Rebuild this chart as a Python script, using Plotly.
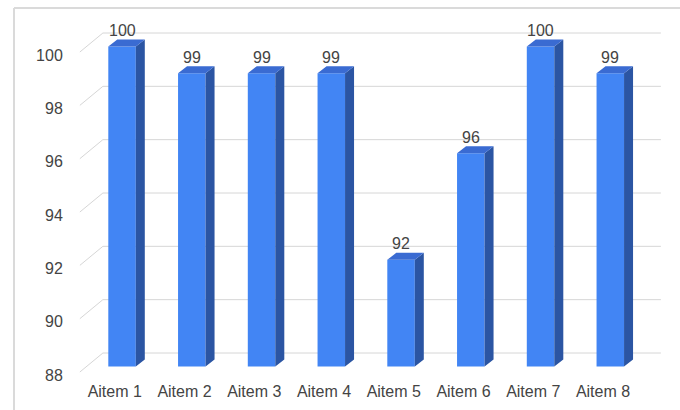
import plotly.graph_objects as go

# ---- data ----
categories = ["Aitem 1", "Aitem 2", "Aitem 3", "Aitem 4",
              "Aitem 5", "Aitem 6", "Aitem 7", "Aitem 8"]
values = [100, 99, 99, 99, 92, 96, 100, 99]
y_ticks = [88, 90, 92, 94, 96, 98, 100]

# ---- layout geometry (pixels) ----
W, H = 680, 410
PLOT_L, PLOT_R, PLOT_T, PLOT_B = 78, 680, 15, 374
X0_PX = 114.75    # first category centre on the front plane
X_STEP = 69.75    # pixels per category
Y0_PX = 372.0     # lowest tick on the front plane
Y_STEP = 26.667   # pixels per value unit

# depth offsets (right, up) in pixels for the pseudo-3D look
WALL_D = (23.0, 19.0)
BAR_FRONT_D = (7.3, 5.5)
BAR_BACK_D = (16.3, 12.5)
BAR_W = 27.5

FRONT_C = "#4285F4"
TOP_C = "#3a6bd2"
SIDE_C = "#2b55a3"
GRID_C = "#d6d6d6"
TEXT_C = "#444444"
FONT = "Arial, Liberation Sans, sans-serif"


def ux(px):
    return px / X_STEP


def uy(px):
    return px / Y_STEP


def paper_x(px):
    return (px - PLOT_L) / (PLOT_R - PLOT_L)


def paper_y(py):
    return (PLOT_B - py) / (PLOT_B - PLOT_T)


n = len(categories)
y_base = y_ticks[0]
x_range = [(PLOT_L - X0_PX) / X_STEP, (PLOT_R - X0_PX) / X_STEP]
y_range = [y_base - (PLOT_B - Y0_PX) / Y_STEP, y_base + (Y0_PX - PLOT_T) / Y_STEP]

fig = go.Figure()

# front faces of the bars
front_x = [i + ux(BAR_FRONT_D[0]) for i in range(n)]
fig.add_trace(go.Bar(
    x=front_x,
    y=[v - y_base for v in values],
    base=y_base + uy(BAR_FRONT_D[1]),
    width=ux(BAR_W),
    marker=dict(color=FRONT_C, line=dict(width=0)),
    hoverinfo="skip",
    showlegend=False,
))

# side and top faces
dx = ux(BAR_BACK_D[0] - BAR_FRONT_D[0])
dy = uy(BAR_BACK_D[1] - BAR_FRONT_D[1])
half = ux(BAR_W) / 2
bottom = y_base + uy(BAR_FRONT_D[1])
side_x, side_y, top_x, top_y = [], [], [], []
for cx, v in zip(front_x, values):
    top = v + uy(BAR_FRONT_D[1])
    r, l = cx + half, cx - half
    side_x += [r, r, r + dx, r + dx, r, None]
    side_y += [bottom, top, top + dy, bottom + dy, bottom, None]
    top_x += [l, r, r + dx, l + dx, l, None]
    top_y += [top, top, top + dy, top + dy, top, None]

fig.add_trace(go.Scatter(x=side_x, y=side_y, mode="lines", fill="toself",
                         fillcolor=SIDE_C, line=dict(width=0, color=SIDE_C),
                         hoverinfo="skip", showlegend=False))
fig.add_trace(go.Scatter(x=top_x, y=top_y, mode="lines", fill="toself",
                         fillcolor=TOP_C, line=dict(width=0, color=TOP_C),
                         hoverinfo="skip", showlegend=False))

shapes = []
# back-wall gridlines with their diagonal floor connectors
for v in y_ticks:
    xl = -0.5
    xw = xl + ux(WALL_D[0])
    yw = v + uy(WALL_D[1])
    shapes.append(dict(type="line", xref="x", yref="y", layer="below",
                       x0=xl, y0=v, x1=xw, y1=yw,
                       line=dict(color=GRID_C, width=1)))
    shapes.append(dict(type="line", xref="x", yref="y", layer="below",
                       x0=xw, y0=yw, x1=n - 0.5 + ux(WALL_D[0]), y1=yw,
                       line=dict(color=GRID_C, width=1)))

# chart frame
shapes.append(dict(type="line", xref="paper", yref="paper",
                   x0=paper_x(14), y0=paper_y(8), x1=paper_x(14), y1=paper_y(415),
                   line=dict(color="#dadada", width=2)))
shapes.append(dict(type="line", xref="paper", yref="paper",
                   x0=paper_x(14), y0=paper_y(8), x1=paper_x(685), y1=paper_y(8),
                   line=dict(color="#dadada", width=2)))

# value labels above the bars
annotations = []
for cx, v in zip(front_x, values):
    annotations.append(dict(x=cx, y=v + uy(BAR_FRONT_D[1]) + uy(16), xref="x", yref="y",
                            text=str(v), showarrow=False,
                            font=dict(size=16, color=TEXT_C, family=FONT)))

fig.update_layout(
    width=W, height=H,
    margin=dict(l=PLOT_L, r=W - PLOT_R, t=PLOT_T, b=H - PLOT_B),
    paper_bgcolor="white", plot_bgcolor="white",
    font=dict(family=FONT, size=16, color=TEXT_C),
    shapes=shapes, annotations=annotations,
    showlegend=False,
    xaxis=dict(range=x_range, tickvals=list(range(n)), ticktext=categories,
               showgrid=False, zeroline=False, showline=False,
               ticks="outside", ticklen=3, tickcolor="rgba(0,0,0,0)"),
    yaxis=dict(range=y_range, tickvals=y_ticks, ticktext=[str(t) for t in y_ticks],
               showgrid=False, zeroline=False, showline=False,
               ticks="outside", ticklen=11, tickcolor="rgba(0,0,0,0)",
               ticklabelshift=3),
)

fig.write_html("out.html")
